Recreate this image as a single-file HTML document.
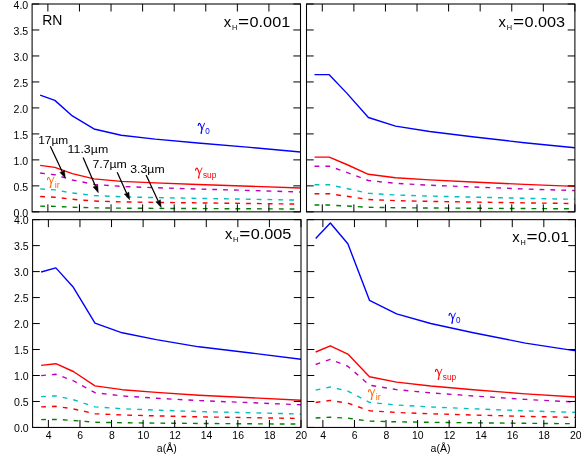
<!DOCTYPE html>
<html><head><meta charset="utf-8"><title>gamma vs a</title>
<style>html,body{margin:0;padding:0;background:#fff;overflow:hidden}svg{display:block}.tk{font-family:"Liberation Sans", sans-serif;font-size:10.55px;fill:#000}.an{font-family:"Liberation Sans", sans-serif;fill:#000}</style></head><body>
<svg width="581" height="454" viewBox="0 0 581 454">
<rect width="581" height="454" fill="#fff"/>
<defs><filter id="gs" x="0" y="0" width="100%" height="100%" filterUnits="userSpaceOnUse" color-interpolation-filters="sRGB"><feOffset dx="0" dy="0"/></filter></defs>
<clipPath id="clip1"><rect x="32.10" y="4.00" width="268.40" height="207.85"/></clipPath>
<g clip-path="url(#clip1)" fill="none" stroke-linejoin="round">
<polyline points="40.15,95.18 54.84,100.38 72.36,115.97 93.99,128.96 121.15,135.20 155.25,139.09 197.88,142.99 249.98,147.41 300.50,151.93" stroke="#0000ff" stroke-width="1.4" stroke-linecap="butt"/>
<polyline points="40.15,165.33 54.84,167.41 72.36,173.65 93.99,178.84 121.15,181.34 155.25,182.90 197.88,184.46 249.98,186.22 300.50,188.03" stroke="#ff0000" stroke-width="1.4" stroke-linecap="butt"/>
<polyline points="40.15,173.05 54.84,174.79 72.36,179.99 93.99,184.33 121.15,186.41 155.25,187.72 197.88,189.02 249.98,190.49 300.50,192.00" stroke="#bf00bf" stroke-width="1.4" stroke-dasharray="4.8 6.05"/>
<polyline points="40.15,188.86 54.84,189.89 72.36,192.99 93.99,195.57 121.15,196.81 155.25,197.59 197.88,198.36 249.98,199.24 300.50,200.14" stroke="#00bfbf" stroke-width="1.4" stroke-dasharray="4.8 6.05"/>
<polyline points="40.15,196.53 54.84,197.22 72.36,199.30 93.99,201.03 121.15,201.86 155.25,202.38 197.88,202.89 249.98,203.48 300.50,204.09" stroke="#ff0000" stroke-width="1.4" stroke-dasharray="4.8 6.05"/>
<polyline points="40.15,206.11 54.84,206.38 72.36,207.18 93.99,207.84 121.15,208.16 155.25,208.36 197.88,208.56 249.98,208.79 300.50,209.02" stroke="#008000" stroke-width="1.4" stroke-dasharray="4.8 6.05"/>
</g>
<path d="M47.89 211.85v-7.5M47.89 4.00v7.5M79.46 211.85v-7.5M79.46 4.00v7.5M111.04 211.85v-7.5M111.04 4.00v7.5M142.62 211.85v-7.5M142.62 4.00v7.5M174.19 211.85v-7.5M174.19 4.00v7.5M205.77 211.85v-7.5M205.77 4.00v7.5M237.35 211.85v-7.5M237.35 4.00v7.5M268.92 211.85v-7.5M268.92 4.00v7.5M300.50 211.85v-7.5M300.50 4.00v7.5M32.10 211.85h7.2M300.50 211.85h-7.2M32.10 185.87h7.2M300.50 185.87h-7.2M32.10 159.89h7.2M300.50 159.89h-7.2M32.10 133.91h7.2M300.50 133.91h-7.2M32.10 107.92h7.2M300.50 107.92h-7.2M32.10 81.94h7.2M300.50 81.94h-7.2M32.10 55.96h7.2M300.50 55.96h-7.2M32.10 29.98h7.2M300.50 29.98h-7.2M32.10 4.00h7.2M300.50 4.00h-7.2" stroke="#000" stroke-width="1.0" fill="none"/>
<rect x="32.10" y="4.00" width="268.40" height="207.85" fill="none" stroke="#000" stroke-width="1.05"/>
<clipPath id="clip2"><rect x="306.50" y="4.00" width="268.40" height="207.85"/></clipPath>
<g clip-path="url(#clip2)" fill="none" stroke-linejoin="round">
<polyline points="314.55,74.66 329.24,74.66 346.76,93.11 368.39,117.53 395.55,126.10 429.65,131.56 472.28,136.75 524.38,142.73 574.90,147.77" stroke="#0000ff" stroke-width="1.4" stroke-linecap="butt"/>
<polyline points="314.55,157.12 329.24,157.12 346.76,164.50 368.39,174.27 395.55,177.70 429.65,179.88 472.28,181.96 524.38,184.35 574.90,186.37" stroke="#ff0000" stroke-width="1.4" stroke-linecap="butt"/>
<polyline points="314.55,166.19 329.24,166.19 346.76,172.36 368.39,180.51 395.55,183.38 429.65,185.20 472.28,186.93 524.38,188.93 574.90,190.61" stroke="#bf00bf" stroke-width="1.4" stroke-dasharray="4.8 6.05"/>
<polyline points="314.55,184.78 329.24,184.78 346.76,188.44 368.39,193.30 395.55,195.00 429.65,196.09 472.28,197.12 524.38,198.31 574.90,199.31" stroke="#00bfbf" stroke-width="1.4" stroke-dasharray="4.8 6.05"/>
<polyline points="314.55,193.79 329.24,193.79 346.76,196.25 368.39,199.50 395.55,200.65 429.65,201.37 472.28,202.06 524.38,202.86 574.90,203.53" stroke="#ff0000" stroke-width="1.4" stroke-dasharray="4.8 6.05"/>
<polyline points="314.55,205.06 329.24,205.06 346.76,206.01 368.39,207.26 395.55,207.70 429.65,207.98 472.28,208.24 524.38,208.55 574.90,208.81" stroke="#008000" stroke-width="1.4" stroke-dasharray="4.8 6.05"/>
</g>
<path d="M322.29 211.85v-7.5M322.29 4.00v7.5M353.86 211.85v-7.5M353.86 4.00v7.5M385.44 211.85v-7.5M385.44 4.00v7.5M417.02 211.85v-7.5M417.02 4.00v7.5M448.59 211.85v-7.5M448.59 4.00v7.5M480.17 211.85v-7.5M480.17 4.00v7.5M511.75 211.85v-7.5M511.75 4.00v7.5M543.32 211.85v-7.5M543.32 4.00v7.5M574.90 211.85v-7.5M574.90 4.00v7.5M306.50 211.85h7.2M574.90 211.85h-7.2M306.50 185.87h7.2M574.90 185.87h-7.2M306.50 159.89h7.2M574.90 159.89h-7.2M306.50 133.91h7.2M574.90 133.91h-7.2M306.50 107.92h7.2M574.90 107.92h-7.2M306.50 81.94h7.2M574.90 81.94h-7.2M306.50 55.96h7.2M574.90 55.96h-7.2M306.50 29.98h7.2M574.90 29.98h-7.2M306.50 4.00h7.2M574.90 4.00h-7.2" stroke="#000" stroke-width="1.0" fill="none"/>
<rect x="306.50" y="4.00" width="268.40" height="207.85" fill="none" stroke="#000" stroke-width="1.05"/>
<clipPath id="clip3"><rect x="32.60" y="219.65" width="268.40" height="207.80"/></clipPath>
<g clip-path="url(#clip3)" fill="none" stroke-linejoin="round">
<polyline points="41.15,272.01 55.84,267.85 73.36,287.33 94.99,323.18 122.15,332.79 156.25,339.65 198.88,346.82 250.98,352.95 301.50,359.39" stroke="#0000ff" stroke-width="1.4" stroke-linecap="butt"/>
<polyline points="41.15,365.36 55.84,363.70 73.36,371.49 94.99,385.83 122.15,389.68 156.25,392.42 198.88,395.29 250.98,397.74 301.50,400.32" stroke="#ff0000" stroke-width="1.4" stroke-linecap="butt"/>
<polyline points="41.15,375.63 55.84,374.24 73.36,380.75 94.99,392.72 122.15,395.93 156.25,398.22 198.88,400.62 250.98,402.67 301.50,404.82" stroke="#bf00bf" stroke-width="1.4" stroke-dasharray="4.8 6.05"/>
<polyline points="41.15,396.67 55.84,395.84 73.36,399.72 94.99,406.84 122.15,408.75 156.25,410.12 198.88,411.54 250.98,412.76 301.50,414.04" stroke="#00bfbf" stroke-width="1.4" stroke-dasharray="4.8 6.05"/>
<polyline points="41.15,406.88 55.84,406.32 73.36,408.92 94.99,413.69 122.15,414.97 156.25,415.88 198.88,416.84 250.98,417.66 301.50,418.51" stroke="#ff0000" stroke-width="1.4" stroke-dasharray="4.8 6.05"/>
<polyline points="41.15,419.63 55.84,419.42 73.36,420.42 94.99,422.25 122.15,422.75 156.25,423.10 198.88,423.46 250.98,423.78 301.50,424.11" stroke="#008000" stroke-width="1.4" stroke-dasharray="4.8 6.05"/>
</g>
<path d="M48.39 427.45v-7.5M48.39 219.65v7.5M79.96 427.45v-7.5M79.96 219.65v7.5M111.54 427.45v-7.5M111.54 219.65v7.5M143.12 427.45v-7.5M143.12 219.65v7.5M174.69 427.45v-7.5M174.69 219.65v7.5M206.27 427.45v-7.5M206.27 219.65v7.5M237.85 427.45v-7.5M237.85 219.65v7.5M269.42 427.45v-7.5M269.42 219.65v7.5M301.00 427.45v-7.5M301.00 219.65v7.5M32.60 427.45h7.2M301.00 427.45h-7.2M32.60 401.47h7.2M301.00 401.47h-7.2M32.60 375.50h7.2M301.00 375.50h-7.2M32.60 349.52h7.2M301.00 349.52h-7.2M32.60 323.55h7.2M301.00 323.55h-7.2M32.60 297.57h7.2M301.00 297.57h-7.2M32.60 271.60h7.2M301.00 271.60h-7.2M32.60 245.62h7.2M301.00 245.62h-7.2M32.60 219.65h7.2M301.00 219.65h-7.2" stroke="#000" stroke-width="1.0" fill="none"/>
<rect x="32.60" y="219.65" width="268.40" height="207.80" fill="none" stroke="#000" stroke-width="1.05"/>
<clipPath id="clip4"><rect x="307.10" y="219.65" width="268.30" height="207.80"/></clipPath>
<g clip-path="url(#clip4)" fill="none" stroke-linejoin="round">
<polyline points="315.65,238.55 330.33,222.97 347.85,243.75 369.47,300.37 396.61,313.88 430.70,323.49 473.31,332.74 525.40,343.13 575.90,350.87" stroke="#0000ff" stroke-width="1.4" stroke-linecap="butt"/>
<polyline points="315.65,352.01 330.33,345.78 347.85,354.09 369.47,376.74 396.61,382.14 430.70,385.99 473.31,389.68 525.40,393.84 575.90,396.94" stroke="#ff0000" stroke-width="1.4" stroke-linecap="butt"/>
<polyline points="315.65,364.49 330.33,359.29 347.85,366.23 369.47,385.14 396.61,389.65 430.70,392.86 473.31,395.95 525.40,399.42 575.90,402.00" stroke="#bf00bf" stroke-width="1.4" stroke-dasharray="4.8 6.05"/>
<polyline points="315.65,390.06 330.33,386.96 347.85,391.09 369.47,402.35 396.61,405.03 430.70,406.94 473.31,408.78 525.40,410.85 575.90,412.39" stroke="#00bfbf" stroke-width="1.4" stroke-dasharray="4.8 6.05"/>
<polyline points="315.65,402.46 330.33,400.39 347.85,403.15 369.47,410.70 396.61,412.50 430.70,413.78 473.31,415.01 525.40,416.39 575.90,417.42" stroke="#ff0000" stroke-width="1.4" stroke-dasharray="4.8 6.05"/>
<polyline points="315.65,417.97 330.33,417.17 347.85,418.23 369.47,421.13 396.61,421.82 430.70,422.32 473.31,422.79 525.40,423.32 575.90,423.72" stroke="#008000" stroke-width="1.4" stroke-dasharray="4.8 6.05"/>
</g>
<path d="M322.88 427.45v-7.5M322.88 219.65v7.5M354.45 427.45v-7.5M354.45 219.65v7.5M386.01 427.45v-7.5M386.01 219.65v7.5M417.58 427.45v-7.5M417.58 219.65v7.5M449.14 427.45v-7.5M449.14 219.65v7.5M480.71 427.45v-7.5M480.71 219.65v7.5M512.27 427.45v-7.5M512.27 219.65v7.5M543.84 427.45v-7.5M543.84 219.65v7.5M575.40 427.45v-7.5M575.40 219.65v7.5M307.10 427.45h7.2M575.40 427.45h-7.2M307.10 401.47h7.2M575.40 401.47h-7.2M307.10 375.50h7.2M575.40 375.50h-7.2M307.10 349.52h7.2M575.40 349.52h-7.2M307.10 323.55h7.2M575.40 323.55h-7.2M307.10 297.57h7.2M575.40 297.57h-7.2M307.10 271.60h7.2M575.40 271.60h-7.2M307.10 245.62h7.2M575.40 245.62h-7.2M307.10 219.65h7.2M575.40 219.65h-7.2" stroke="#000" stroke-width="1.0" fill="none"/>
<rect x="307.10" y="219.65" width="268.30" height="207.80" fill="none" stroke="#000" stroke-width="1.05"/>
<g filter="url(#gs)">
<text x="28.20" y="216.60" text-anchor="end" class="tk">0.0</text>
<text x="28.20" y="190.62" text-anchor="end" class="tk">0.5</text>
<text x="28.20" y="164.64" text-anchor="end" class="tk">1.0</text>
<text x="28.20" y="138.66" text-anchor="end" class="tk">1.5</text>
<text x="28.20" y="112.67" text-anchor="end" class="tk">2.0</text>
<text x="28.20" y="86.69" text-anchor="end" class="tk">2.5</text>
<text x="28.20" y="60.71" text-anchor="end" class="tk">3.0</text>
<text x="28.20" y="34.73" text-anchor="end" class="tk">3.5</text>
<text x="28.20" y="8.75" text-anchor="end" class="tk">4.0</text>
<text x="28.70" y="432.20" text-anchor="end" class="tk">0.0</text>
<text x="28.70" y="406.22" text-anchor="end" class="tk">0.5</text>
<text x="28.70" y="380.25" text-anchor="end" class="tk">1.0</text>
<text x="28.70" y="354.27" text-anchor="end" class="tk">1.5</text>
<text x="28.70" y="328.30" text-anchor="end" class="tk">2.0</text>
<text x="28.70" y="302.32" text-anchor="end" class="tk">2.5</text>
<text x="28.70" y="276.35" text-anchor="end" class="tk">3.0</text>
<text x="28.70" y="250.38" text-anchor="end" class="tk">3.5</text>
<text x="28.70" y="224.40" text-anchor="end" class="tk">4.0</text>
<text x="48.69" y="438.55" text-anchor="middle" class="tk" style="font-size:10.45px">4</text>
<text x="80.26" y="438.55" text-anchor="middle" class="tk" style="font-size:10.45px">6</text>
<text x="111.84" y="438.55" text-anchor="middle" class="tk" style="font-size:10.45px">8</text>
<text x="143.42" y="438.55" text-anchor="middle" class="tk" style="font-size:10.45px">10</text>
<text x="174.99" y="438.55" text-anchor="middle" class="tk" style="font-size:10.45px">12</text>
<text x="206.57" y="438.55" text-anchor="middle" class="tk" style="font-size:10.45px">14</text>
<text x="238.15" y="438.55" text-anchor="middle" class="tk" style="font-size:10.45px">16</text>
<text x="269.72" y="438.55" text-anchor="middle" class="tk" style="font-size:10.45px">18</text>
<text x="301.30" y="438.55" text-anchor="middle" class="tk" style="font-size:10.45px">20</text>
<text x="166.80" y="451.65" text-anchor="middle" class="tk">a(Å)</text>
<text x="323.18" y="438.55" text-anchor="middle" class="tk" style="font-size:10.45px">4</text>
<text x="354.75" y="438.55" text-anchor="middle" class="tk" style="font-size:10.45px">6</text>
<text x="386.31" y="438.55" text-anchor="middle" class="tk" style="font-size:10.45px">8</text>
<text x="417.88" y="438.55" text-anchor="middle" class="tk" style="font-size:10.45px">10</text>
<text x="449.44" y="438.55" text-anchor="middle" class="tk" style="font-size:10.45px">12</text>
<text x="481.01" y="438.55" text-anchor="middle" class="tk" style="font-size:10.45px">14</text>
<text x="512.57" y="438.55" text-anchor="middle" class="tk" style="font-size:10.45px">16</text>
<text x="544.14" y="438.55" text-anchor="middle" class="tk" style="font-size:10.45px">18</text>
<text x="575.70" y="438.55" text-anchor="middle" class="tk" style="font-size:10.45px">20</text>
<text x="440.55" y="451.65" text-anchor="middle" class="tk">a(Å)</text>
<text x="42.20" y="24.70" class="an" font-size="14.0" textLength="20.2" lengthAdjust="spacingAndGlyphs">RN</text>
<text x="223.80" y="27.00" class="an" font-size="14.6" textLength="7.4" lengthAdjust="spacingAndGlyphs">x</text>
<text x="232.00" y="29.70" class="an" font-size="6.3" textLength="5.3" lengthAdjust="spacingAndGlyphs">H</text>
<text x="238.10" y="27.00" class="an" font-size="14.6" textLength="11.1" lengthAdjust="spacingAndGlyphs">=</text>
<text x="249.60" y="27.00" class="an" font-size="14.8" textLength="40.6" lengthAdjust="spacingAndGlyphs">0.001</text>
<text x="498.60" y="27.40" class="an" font-size="14.6" textLength="7.4" lengthAdjust="spacingAndGlyphs">x</text>
<text x="506.80" y="30.10" class="an" font-size="6.3" textLength="5.3" lengthAdjust="spacingAndGlyphs">H</text>
<text x="512.90" y="27.40" class="an" font-size="14.6" textLength="11.1" lengthAdjust="spacingAndGlyphs">=</text>
<text x="524.40" y="27.40" class="an" font-size="14.8" textLength="40.6" lengthAdjust="spacingAndGlyphs">0.003</text>
<text x="224.90" y="238.90" class="an" font-size="14.6" textLength="7.4" lengthAdjust="spacingAndGlyphs">x</text>
<text x="233.10" y="241.60" class="an" font-size="6.3" textLength="5.3" lengthAdjust="spacingAndGlyphs">H</text>
<text x="239.20" y="238.90" class="an" font-size="14.6" textLength="11.1" lengthAdjust="spacingAndGlyphs">=</text>
<text x="250.70" y="238.90" class="an" font-size="14.8" textLength="40.6" lengthAdjust="spacingAndGlyphs">0.005</text>
<text x="512.20" y="241.90" class="an" font-size="14.6" textLength="7.4" lengthAdjust="spacingAndGlyphs">x</text>
<text x="520.40" y="244.60" class="an" font-size="6.3" textLength="5.3" lengthAdjust="spacingAndGlyphs">H</text>
<text x="526.50" y="241.90" class="an" font-size="14.6" textLength="11.1" lengthAdjust="spacingAndGlyphs">=</text>
<text x="538.00" y="241.90" class="an" font-size="14.8" textLength="31.0" lengthAdjust="spacingAndGlyphs">0.01</text>
<g transform="translate(197.80 122.70)" stroke="#0000ff" fill="#0000ff"><path d="M0.45 2.8C0.55 1.4 1.1 0.6 1.8 0.7C2.6 0.85 3.2 3.1 4.2 6.4" stroke-width="1.1" fill="none" stroke-linecap="round"/><path d="M6.8 0.5L4.2 6.4" stroke-width="0.9" fill="none" stroke-linecap="round"/><path d="M3.8 6.0L4.6 6.0L4.15 10.9Q3.3 11.5 2.6 10.9Z" stroke="none"/></g>
<text x="205.15" y="133.50" font-family='"Liberation Sans", sans-serif' font-size="9.0" fill="#0000ff" textLength="4.5" lengthAdjust="spacingAndGlyphs">0</text>
<g transform="translate(195.20 167.40)" stroke="#ff0000" fill="#ff0000"><path d="M0.45 2.8C0.55 1.4 1.1 0.6 1.8 0.7C2.6 0.85 3.2 3.1 4.2 6.4" stroke-width="1.1" fill="none" stroke-linecap="round"/><path d="M6.8 0.5L4.2 6.4" stroke-width="0.9" fill="none" stroke-linecap="round"/><path d="M3.8 6.0L4.6 6.0L4.15 10.9Q3.3 11.5 2.6 10.9Z" stroke="none"/></g>
<text x="202.95" y="178.20" font-family='"Liberation Sans", sans-serif' font-size="8.4" fill="#ff0000" textLength="13.4" lengthAdjust="spacingAndGlyphs">sup</text>
<g transform="translate(47.00 176.80)" stroke="#ff6a0a" fill="#ff6a0a"><path d="M0.45 2.8C0.55 1.4 1.1 0.6 1.8 0.7C2.6 0.85 3.2 3.1 4.2 6.4" stroke-width="1.1" fill="none" stroke-linecap="round"/><path d="M6.8 0.5L4.2 6.4" stroke-width="0.9" fill="none" stroke-linecap="round"/><path d="M3.8 6.0L4.6 6.0L4.15 10.9Q3.3 11.5 2.6 10.9Z" stroke="none"/></g>
<text x="54.75" y="187.90" font-family='"Liberation Sans", sans-serif' font-size="8.6" fill="#ff6a0a" textLength="5.1" lengthAdjust="spacingAndGlyphs">ir</text>
<g transform="translate(448.60 312.60)" stroke="#0000ff" fill="#0000ff"><path d="M0.45 2.8C0.55 1.4 1.1 0.6 1.8 0.7C2.6 0.85 3.2 3.1 4.2 6.4" stroke-width="1.1" fill="none" stroke-linecap="round"/><path d="M6.8 0.5L4.2 6.4" stroke-width="0.9" fill="none" stroke-linecap="round"/><path d="M3.8 6.0L4.6 6.0L4.15 10.9Q3.3 11.5 2.6 10.9Z" stroke="none"/></g>
<text x="455.95" y="323.40" font-family='"Liberation Sans", sans-serif' font-size="9.0" fill="#0000ff" textLength="4.5" lengthAdjust="spacingAndGlyphs">0</text>
<g transform="translate(435.00 368.70)" stroke="#ff0000" fill="#ff0000"><path d="M0.45 2.8C0.55 1.4 1.1 0.6 1.8 0.7C2.6 0.85 3.2 3.1 4.2 6.4" stroke-width="1.1" fill="none" stroke-linecap="round"/><path d="M6.8 0.5L4.2 6.4" stroke-width="0.9" fill="none" stroke-linecap="round"/><path d="M3.8 6.0L4.6 6.0L4.15 10.9Q3.3 11.5 2.6 10.9Z" stroke="none"/></g>
<text x="442.75" y="379.60" font-family='"Liberation Sans", sans-serif' font-size="8.4" fill="#ff0000" textLength="13.4" lengthAdjust="spacingAndGlyphs">sup</text>
<g transform="translate(368.00 388.80)" stroke="#ff6a0a" fill="#ff6a0a"><path d="M0.45 2.8C0.55 1.4 1.1 0.6 1.8 0.7C2.6 0.85 3.2 3.1 4.2 6.4" stroke-width="1.1" fill="none" stroke-linecap="round"/><path d="M6.8 0.5L4.2 6.4" stroke-width="0.9" fill="none" stroke-linecap="round"/><path d="M3.8 6.0L4.6 6.0L4.15 10.9Q3.3 11.5 2.6 10.9Z" stroke="none"/></g>
<text x="375.75" y="399.90" font-family='"Liberation Sans", sans-serif' font-size="8.6" fill="#ff6a0a" textLength="5.1" lengthAdjust="spacingAndGlyphs">ir</text>
<text x="38.20" y="143.60" class="an" font-size="10.4" textLength="30.0" lengthAdjust="spacingAndGlyphs">17µm</text>
<text x="67.60" y="152.90" class="an" font-size="10.4" textLength="40.6" lengthAdjust="spacingAndGlyphs">11.3µm</text>
<text x="92.40" y="167.90" class="an" font-size="10.4" textLength="34.5" lengthAdjust="spacingAndGlyphs">7.7µm</text>
<text x="130.30" y="172.60" class="an" font-size="10.4" textLength="34.3" lengthAdjust="spacingAndGlyphs">3.3µm</text>
<path d="M50.30 146.30L62.31 171.67" stroke="#000" stroke-width="1.25" fill="none"/>
<path d="M65.30 178.00L59.88 172.38L62.31 171.67L64.39 170.24Z" fill="#000" stroke="#000" stroke-width="0.5" stroke-linejoin="miter"/>
<path d="M83.10 157.60L95.52 186.28" stroke="#000" stroke-width="1.25" fill="none"/>
<path d="M98.30 192.70L93.07 186.90L95.52 186.28L97.65 184.92Z" fill="#000" stroke="#000" stroke-width="0.5" stroke-linejoin="miter"/>
<path d="M117.20 172.20L126.73 193.41" stroke="#000" stroke-width="1.25" fill="none"/>
<path d="M129.60 199.80L124.29 194.07L126.73 193.41L128.85 192.03Z" fill="#000" stroke="#000" stroke-width="0.5" stroke-linejoin="miter"/>
<path d="M146.10 175.00L158.25 201.15" stroke="#000" stroke-width="1.25" fill="none"/>
<path d="M161.20 207.50L155.81 201.84L158.25 201.15L160.35 199.74Z" fill="#000" stroke="#000" stroke-width="0.5" stroke-linejoin="miter"/>
</g>
</svg></body></html>
